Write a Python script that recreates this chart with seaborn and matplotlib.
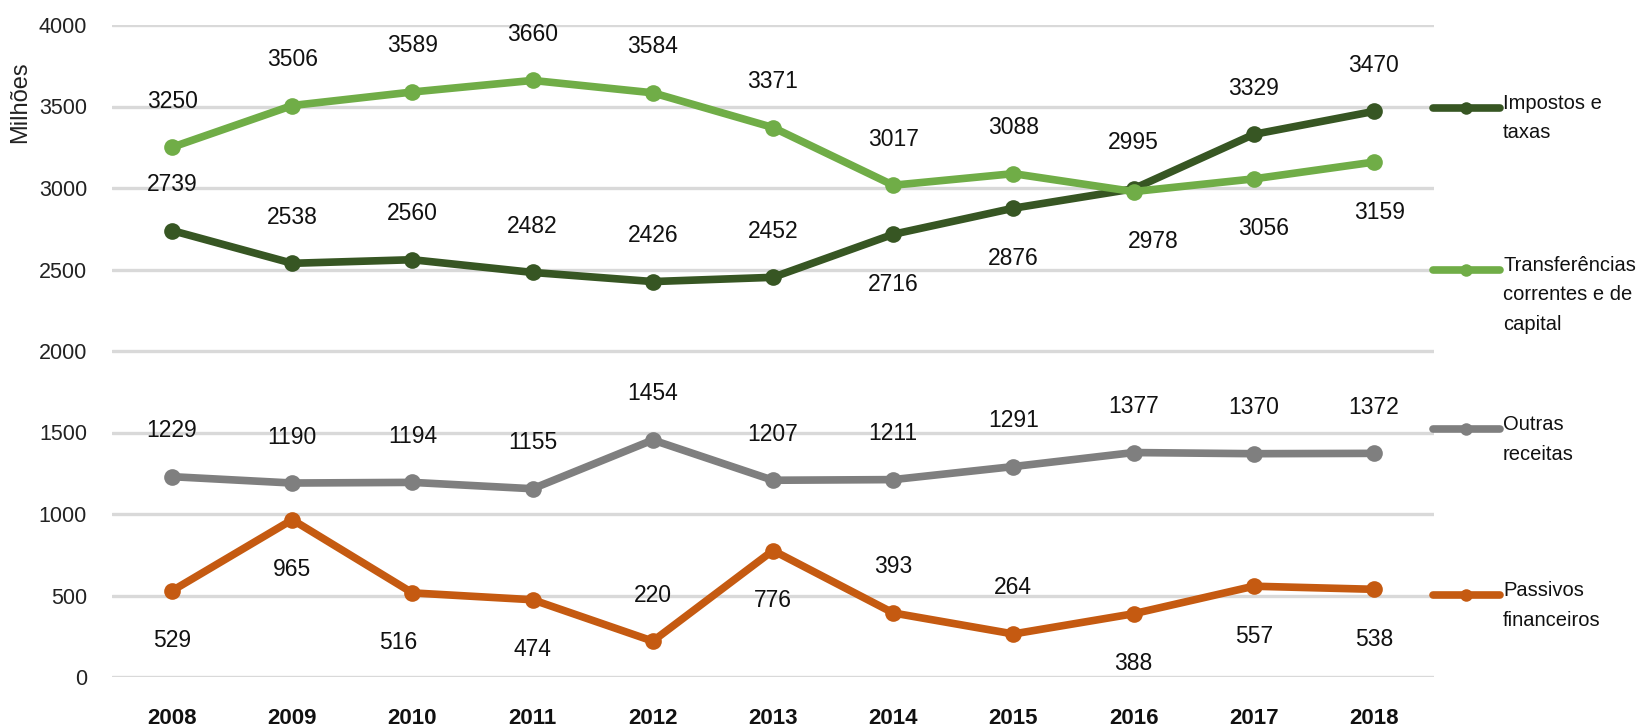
import matplotlib
matplotlib.use("Agg")
import matplotlib.pyplot as plt
import seaborn as sns
import pandas as pd
from matplotlib.lines import Line2D
from matplotlib import font_manager

# ---------------- data ----------------
years = [2008, 2009, 2010, 2011, 2012, 2013, 2014, 2015, 2016, 2017, 2018]
impostos = [2739, 2538, 2560, 2482, 2426, 2452, 2716, 2876, 2995, 3329, 3470]
transferencias = [3250, 3506, 3589, 3660, 3584, 3371, 3017, 3088, 2978, 3056, 3159]
outras = [1229, 1190, 1194, 1155, 1454, 1207, 1211, 1291, 1377, 1370, 1372]
passivos = [529, 965, 516, 474, 220, 776, 393, 264, 388, 557, 538]
series_names = ["Impostos e taxas", "Transferências correntes e de capital",
                "Outras receitas", "Passivos financeiros"]
legend_labels = ["Impostos e\ntaxas", "Transferências\ncorrentes e de\ncapital",
                 "Outras\nreceitas", "Passivos\nfinanceiros"]
yticks = [0, 500, 1000, 1500, 2000, 2500, 3000, 3500, 4000]
ylabel = "Milhões"

# ---------------- style ----------------
colors = ["#375623", "#70AD47", "#7F7F7F", "#C55A11"]
# label side: +1 above, -1 below
sides = [
    [1, 1, 1, 1, 1, 1, -1, -1, 1, 1, 1],
    [1, 1, 1, 1, 1, 1, 1, 1, -1, -1, -1],
    [1] * 11,
    [-1, -1, -1, -1, 1, -1, 1, 1, -1, -1, -1],
]
dx = [
    [0] * 11,
    [0, 0, 0, 0, 0, 0, 0, 0, 20, 10, 6],
    [0] * 11,
    [0, 0, -14, 0, 0, 0, 0, 0, 0, 0, 0],
]

names = {f.name for f in font_manager.fontManager.ttflist}
font = "Liberation Sans Narrow" if "Liberation Sans Narrow" in names else "Liberation Sans"

sns.set_style("white")
plt.rcParams["font.family"] = [font, "DejaVu Sans"]

W, H = 1642, 728
fig = plt.figure(figsize=(W / 100, H / 100), dpi=100)
ax = fig.add_axes([112 / W, 1 - 677 / H, (1434 - 112) / W, (677 - 25) / H])

values = [impostos, transferencias, outras, passivos]
df = pd.DataFrame({
    "Ano": years * 4,
    "Valor": sum(values, []),
    "Serie": sum([[n] * len(years) for n in series_names], []),
})

sns.lineplot(data=df, x="Ano", y="Valor", hue="Serie", hue_order=series_names,
             palette=colors, marker="o", markersize=12, linewidth=5.5,
             markeredgewidth=0, legend=False, ax=ax, zorder=3)

ax.set_xlim(2007.5, 2018.5)
ax.set_ylim(0, 4000)
ax.set_yticks(yticks)
ax.set_yticklabels([str(v) for v in yticks], fontsize=15.5, color="#222222")
ax.set_xticks(years)
ax.set_xticklabels([str(y) for y in years], fontsize=16, fontweight="bold", color="#111111")
ax.tick_params(axis="both", length=0)
ax.tick_params(axis="y", pad=18)
ax.tick_params(axis="x", pad=22)
ax.yaxis.grid(True, color="#D9D9D9", linewidth=2.4)
ax.xaxis.grid(False)
for s in ax.spines.values():
    s.set_visible(False)
ax.set_xlabel("")
ax.set_ylabel("")
ax.set_axisbelow(True)

# data labels
for vals, sd, ddx in zip(values, sides, dx):
    for x, v, s, d in zip(years, vals, sd, ddx):
        ax.annotate(str(v), (x, v), xytext=(d, 46 if s > 0 else -50),
                    textcoords="offset pixels", ha="center", va="center",
                    fontsize=16.5, color="#111111")

fig.text(20 / W, 1 - 102 / H, ylabel, rotation=90, ha="center", va="center",
         fontsize=17, color="#222222")

# legend (manual, first line aligned with handle)
leg_y = [108, 270, 429, 595]
for c, lab, yy in zip(colors, legend_labels, leg_y):
    yf = 1 - yy / H
    fig.add_artist(Line2D([1433 / W, 1500 / W], [yf, yf], transform=fig.transFigure,
                          color=c, linewidth=5.5, solid_capstyle="round"))
    fig.add_artist(Line2D([1466 / W], [yf], transform=fig.transFigure,
                          color=c, marker="o", markersize=9, markeredgewidth=0))
    fig.text(1503 / W, yf + 14 / H, lab, ha="left", va="top", fontsize=14.5,
             color="#111111", linespacing=1.7)

fig.savefig("out.png", dpi=100)
